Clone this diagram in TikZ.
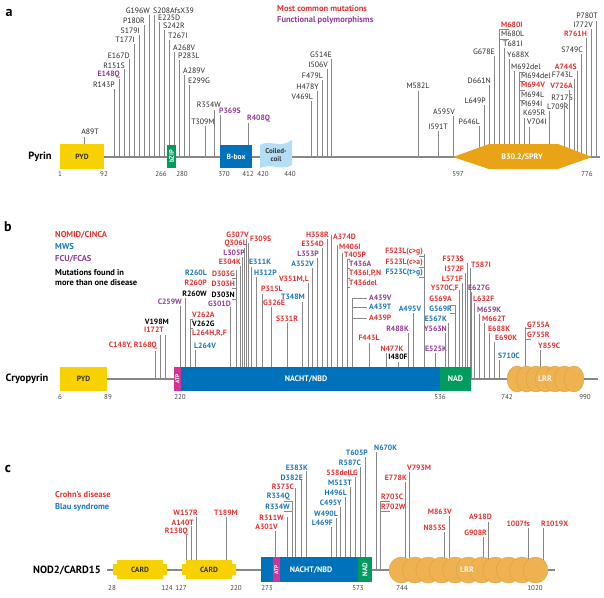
\documentclass[tikz,border=0pt]{standalone}
\usepackage{fontspec}
\setmainfont{PT Sans}
\usetikzlibrary{positioning}

\definecolor{mutred}{RGB}{230,50,50}
\definecolor{mutblue}{RGB}{27,117,188}
\definecolor{mutpurple}{RGB}{146,60,150}
\definecolor{lngray}{RGB}{135,135,135}
\definecolor{pydyellow}{RGB}{247,210,0}
\definecolor{domgreen}{RGB}{0,155,95}
\definecolor{nachtblue}{RGB}{0,114,188}
\definecolor{atpmag}{RGB}{214,50,150}
\definecolor{sprayorange}{RGB}{232,163,23}
\definecolor{lrrorange}{RGB}{238,178,80}
\definecolor{lrrline}{RGB}{222,160,62}
\definecolor{coilblue}{RGB}{180,222,245}

\tikzset{
  stick/.style={draw=lngray, line width=0.8pt},
  baseln/.style={draw=lngray, line width=1.6pt},
  lab/.style={inner sep=0pt, text=black!85, font=\fontsize{7.8}{9}\selectfont},
  labk/.style={lab},
  labkb/.style={lab, text=black, font=\bfseries\fontsize{7.7}{9}\selectfont},
  labr/.style={lab, text=mutred, font=\bfseries\fontsize{7.7}{9}\selectfont},
  labb/.style={lab, text=mutblue, font=\bfseries\fontsize{7.7}{9}\selectfont},
  labp/.style={lab, text=mutpurple, font=\bfseries\fontsize{7.7}{9}\selectfont},
  legend/.style={inner sep=0pt, anchor=west, font=\bfseries\fontsize{8.5}{9.5}\selectfont},
  num/.style={inner sep=0pt, text=black!75, font=\fontsize{7}{8}\selectfont},
  panel/.style={inner sep=0pt, font=\bfseries\fontsize{14}{14}\selectfont},
  protname/.style={inner sep=0pt, font=\bfseries\fontsize{10.5}{11}\selectfont},
  boxtxt/.style={inner sep=0pt, font=\bfseries\fontsize{7.5}{8}\selectfont},
  lrr/.style={fill=lrrorange, draw=lrrline, line width=0.4pt}
}

\newcommand{\cardshape}[2]{% left, right x of a CARD domain
  \fill[pydyellow] (#1+4,560) -- (#2-4,560) -- (#2-4,564) -- (#2,564) -- (#2,575)
    -- (#2-4,575) -- (#2-4,579) -- (#1+4,579) -- (#1+4,575) -- (#1,575)
    -- (#1,564) -- (#1+4,564) -- cycle;}

\begin{document}
\begin{tikzpicture}[x=1pt, y=-1pt]
\useasboundingbox (0,0) rectangle (604,597);

%% ---------- a: Pyrin ----------
\node[panel] (pa) at (9,13) {a};
\node[legend, text=mutred] (lega1) at (277,9) {Most common mutations};
\node[legend, text=mutpurple] (lega2) at ([yshift=-11pt]lega1.west) {Functional polymorphisms};
\node[protname] (pyrin) at (40,157) {Pyrin};
\draw[baseln] (60,157) -- (600,157);

\foreach \mx/\mt/\lx/\ly/\an/\sty/\txt [count=\i] in {
  84/137/90/132/center/labk/A89T, 114/89/115/85/east/labk/R143P,
  119/79/120/75/east/labp/E148Q, 124/69/125/66/east/labk/R151S,
  129/59/130/56/east/labk/E167D, 134/44/135/40/east/labk/T177I,
  139/35/140/31/east/labk/S179I, 144/25/145/21/east/labk/P180R,
  149/15/150/11/east/labk/G196W, 154/15/153/11/west/labk/S208AfsX39,
  159/22/158/18/west/labk/E225D, 164/30/163/26/west/labk/S242R,
  169/40/168/36/west/labk/T267I, 174/52/173/48/west/labk/A268V,
  179/60/178/56/west/labk/P283L, 184/75/183/71/west/labk/A289V,
  189/85/188/81/west/labk/E299G, 205/126/203/122/center/labk/T309M,
  214/110/221/105/east/labk/R354W, 220/115/219/111/west/labp/P369S,
  248/123/247/119/west/labp/R408Q, 311/101/313/97/east/labk/V469L,
  317/91/319/87/east/labk/H478Y, 322/80/323/76/east/labk/F479L,
  327/69/328/65/east/labk/I506V, 331/59/332/55/east/labk/G514E,
  418/91/418/86/center/labk/M582L, 438/131/438/127/center/labk/I591T,
  453/116/455/112/east/labk/A595V, 479/126/480/122/east/labk/P646L,
  484/105/486/101/east/labk/L649P, 489/85/491/81/east/labk/D661N,
  494/56/495/52/east/labk/G678E, 499/29/501/25/west/labr/M680I,
  504/48/503/44/west/labk/T681I, 509/59/507/55/west/labk/Y688X,
  514/71/511/67/west/labk/M692del, 519/72/521/76/west/labk/M694del,
  524/118/523/113/west/labk/K695R, 529/127/527/122/west/labk/V704I,
  549/111/547/107/west/labk/L709R, 564/102/573/98/east/labk/R717S,
  569/90/573/86/east/labr/V726A, 574/79/573/75/east/labk/F743L,
  577/71/577/67/east/labr/A744S, 581/54/583/50/east/labk/S749C,
  586/38/587/34/east/labr/R761H, 591/29/593/25/east/labk/I772V,
  596/21/598/16/east/labk/P780T}
{
  \draw[stick] (\mx,\mt) -- (\mx,157);
  \node[\sty, anchor=\an] (ma\i) at (\lx,\ly) {\txt};
}
% residues with several changes
\node[labk, anchor=west] (m680l) at (501,34) {M680L};
\draw[stick] (499,29) -- (509,29) (499,39) -- (509,39);
\node[labr, anchor=west] (m694v) at (521,85) {M694V};
\node[labk, anchor=west] (m694l) at (521,95) {M694L};
\node[labk, anchor=west] (m694i) at (521,104) {M694I};
\foreach \yy in {72,81,90,100} \draw[stick] (519,\yy) -- (525,\yy);

% domains
\fill[pydyellow] (60,144) rectangle (104,169);
\node[boxtxt, text=black!80] (pyda) at (82,157) {PYD};
\fill[domgreen] (167,145) rectangle (176,168);
\node[boxtxt, text=white, rotate=90, font=\bfseries\fontsize{6.5}{7}\selectfont] (bzip) at (171.5,156.5) {bZIP};
\fill[nachtblue] (220,145) rectangle (252,168);
\node[boxtxt, text=white] (bbox) at (236,156.5) {B-box};
\fill[coilblue] (260,145) .. controls (270,139) and (280,149) .. (292,140)
  -- (292,165) .. controls (282,171) and (271,163) .. (260,168) -- cycle;
\node[boxtxt, text=black!80, align=center, font=\bfseries\fontsize{7}{7.5}\selectfont] (coil) at (276,155) {Coiled-\\coil};
\fill[sprayorange] (453,157) -- (489,144) -- (558,144) -- (592,157) -- (558,169) -- (489,169) -- cycle;
\node[boxtxt, text=white, font=\bfseries\fontsize{8}{9}\selectfont] (spry) at (522,157) {B30.2/SPRY};

\foreach \px/\pn [count=\i] in {60/1, 104/92, 161/266, 182/280, 224/370, 248/412, 263/420, 290/440, 458/597, 587/776}
  \node[num] (na\i) at (\px,174) {\pn};

%% ---------- b: Cryopyrin ----------
\node[panel] (pb) at (8,227) {b};
\node[legend, text=mutred] (legb1) at (55,235) {NOMID/CINCA};
\node[legend, text=mutblue] (legb2) at (55,247) {MWS};
\node[legend, text=mutpurple] (legb3) at (55,259) {FCU/FCAS};
\node[legend, text=black, align=left] (legb4) at (55,277.5) {Mutations found in\\more than one disease};
\node[protname] (cryo) at (27,379) {Cryopyrin};
\draw[baseln] (60,379) -- (598,379);

\foreach \mx/\mt/\lx/\ly/\an/\sty/\txt [count=\i] in {
  155/351/157/346/east/labr/{C148Y, R168Q}, 160/335/164/330/east/labr/I172T,
  165/335/169/322/east/labkb/V198M, 180/306/182/302/east/labp/C259W,
  185/298/207/294/east/labkb/R260W, 190/319/192/315/west/labr/V262A,
  195/350/194/346/west/labb/L264V, 230/307/231/304/east/labp/G301D,
  236/270/235/295/east/labkb/D303N, 240/266/241/262/east/labr/E304K,
  242/257/245/253/east/labp/L305P, 244/248/247/244/east/labr/Q306L,
  246/239/249/235/east/labr/G307V, 248/243/250/239/west/labr/F309S,
  251/267/249/262/west/labb/E311K, 256/277/254/273/west/labb/H312P,
  262/294/261/289/west/labr/P315L, 271/307/263/303/west/labr/G326E,
  287/323/287/319/center/labr/S331R, 302/302/305/297/east/labb/T348M,
  308/283/309/279/east/labr/{V351M,L}, 312/268/314/264/east/labb/A352V,
  317/258/319/254/east/labp/L353P, 322/248/324/244/east/labr/E354D,
  327/239/329/235/east/labr/H358R, 331/235/333/237/west/labr/A374D,
  337/245/339/247/west/labr/M406I, 342/253/344/255/west/labr/T405P,
  347/259/349/263.5/west/labp/T436A, 352/298/369/298/west/labp/A439V,
  369/343/369/338/center/labr/F443L, 386/353/392/349/center/labr/N477K,
  398/362/398/357/center/labkb/I480F, 408/333/409/329/east/labp/R488K,
  413/313/410/309/center/labb/A495V, 424/254/423/252/east/labr/{F523L(c>g)},
  435/353/436/349/center/labp/E525K, 445/333/447/329/east/labp/Y563N,
  448/323/447/319/east/labb/E567K, 455/305/452/299/east/labr/G569A,
  459/290/459/288/east/labr/{Y570C,F}, 462/283/463/279/east/labr/L571F,
  465/273/464/269/east/labr/I572F, 467/263/464/259/east/labr/F573S,
  470/268/471/265/west/labr/T587I, 471/292/468/288/west/labp/E627G,
  474/303/473/299/west/labr/L632F, 479/314/477/310/west/labp/M659K,
  484/323/482/319/west/labr/M662T, 489/333/488/329/west/labr/E688K,
  494/342/495/338/west/labr/E690K, 499/360/498/356/west/labb/S710C,
  525/327/527/325/west/labr/G755A, 540/350/538/346/west/labr/Y859C}
{
  \draw[stick] (\mx,\mt) -- (\mx,379);
  \node[\sty, anchor=\an] (mb\i) at (\lx,\ly) {\txt};
}
% residues with several changes
\node[labb, anchor=east] (r260l) at (207,273) {R260L};
\node[labr, anchor=east] (r260p) at (207,283) {R260P};
\node[labkb, anchor=west] (v262g) at (192,324) {V262G};
\node[labr, anchor=west] (l264h) at (192,333) {L264H,R,F};
\draw[stick] (190,319) -- (193,319) (190,328) -- (193,328);
\node[labr, anchor=east] (d303g) at (235,274) {D303G};
\node[labr, anchor=east] (d303h) at (235,284) {D303H};
\foreach \yy in {278,288,299} \draw[stick] (232,\yy) -- (236,\yy);
\node[labr, anchor=west] (t436i) at (349,273) {T436I,P,N};
\node[labr, anchor=west] (t436d) at (349,283) {T436del};
\foreach \yy in {259,268,278,287} \draw[stick] (347,\yy) -- (350,\yy);
\node[labb, anchor=west] (a439t) at (369,307) {A439T};
\node[labr, anchor=west] (a439p) at (369,318) {A439P};
\foreach \yy in {298,307,318} \draw[stick] (352,\yy) -- (367,\yy);
\node[labr, anchor=east] (f523a) at (423,263) {F523L(c>a)};
\node[labb, anchor=east] (f523c) at (423,273) {F523C(t>g)};
\foreach \yy in {256,267,277} \draw[stick] (419,\yy) -- (424,\yy);
\node[labb, anchor=east] (g569r) at (452,309) {G569R};
\draw[stick] (450,305) -- (455,305) (450,313) -- (455,313);
\node[labr, anchor=west] (g755r) at (527,335) {G755R};
\draw[stick] (525,328) -- (531,328) (525,339) -- (531,339);

% domains
\fill[pydyellow] (60,367) rectangle (107,391);
\node[boxtxt, text=black!80] (pydb) at (83.5,379) {PYD};
\fill[nachtblue] (181,367) rectangle (440,391);
\fill[atpmag] (174,367) rectangle (181,391);
\node[boxtxt, text=white, rotate=90, font=\bfseries\fontsize{5.5}{6}\selectfont] (atpb) at (177.5,379) {ATP};
\node[boxtxt, text=white, font=\bfseries\fontsize{8}{9}\selectfont] (nachtb) at (306,379) {NACHT/NBD};
\fill[domgreen] (440,367) rectangle (471,391);
\node[boxtxt, text=white, font=\bfseries\fontsize{8}{9}\selectfont] (nadb) at (455.5,379) {NAD};
\foreach \k in {0,...,6}
  \draw[lrr] ({517+\k*9.5},379) ellipse [x radius=10, y radius=13];
\node[boxtxt, text=white!90!lrrorange, font=\bfseries\fontsize{8}{9}\selectfont] (lrrb) at (545,379) {LRR};

\foreach \px/\pn [count=\i] in {60/6, 108/89, 180/220, 440/536, 507/742, 585/990}
  \node[num] (nb\i) at (\px,397) {\pn};

%% ---------- c: NOD2/CARD15 ----------
\node[panel] (pc) at (8,469) {c};
\node[legend, text=mutred] (legc1) at (55,495) {Crohn’s disease};
\node[legend, text=mutblue] (legc2) at (55,507) {Blau syndrome};
\node[protname] (nod) at (67,570) {NOD2/CARD15};
\draw[baseln] (107,570) -- (555,570);

\foreach \mx/\mt/\lx/\ly/\an/\sty/\txt [count=\i] in {
  186/535/188/532/east/labr/R138Q, 191/526/194/523/east/labr/A140T,
  196/517/198/513/east/labr/W157R, 226/517/226/513/center/labr/T189M,
  275/531/278/527/east/labr/A301V, 287/517/284/518/east/labr/R311W,
  292/501/290/497/east/labb/R334Q, 295/488/294/487/east/labr/R373C,
  301/480/303/478/east/labb/D382E, 306/471/308/468/east/labb/E383K,
  331/527/333/523/east/labb/L469F, 336/518/338/514/east/labb/W490L,
  340/507/342/503/east/labb/C495Y, 345/497/347/493/east/labb/H496L,
  350/487/352/483/east/labb/M513T, 355/477/358/473/east/labr/558delLG,
  360/467/361/463/east/labb/R587C, 365/457/368/453/east/labb/T605P,
  376/452/374/448/west/labb/N670K, 380/501/381/497/west/labr/R703C,
  405/482/407/478/east/labr/E778K, 409/472/407/468/west/labr/V793M,
  444/532/446/528/east/labr/N853S, 449/516/452/512/east/labr/M863V,
  483/537/487/533/east/labr/G908R, 488/522/492/517/east/labr/A918D,
  528/528/530/524/east/labr/1007fs, 543/528/541/524/west/labr/R1019X}
{
  \draw[stick] (\mx,\mt) -- (\mx,570);
  \node[\sty, anchor=\an] (mc\i) at (\lx,\ly) {\txt};
}
% residues with several changes
\node[labb, anchor=east] (r334w) at (290,507) {R334W};
\draw[stick] (284,501) -- (292,501) (284,511) -- (292,511);
\node[labr, anchor=west] (r702w) at (381,507) {R702W};
\draw[stick] (380,501) -- (390,501) (380,511) -- (390,511);

% domains
\cardshape{113}{167}
\node[boxtxt, text=black!80] (card1) at (140,569.5) {CARD};
\cardshape{182}{236}
\node[boxtxt, text=black!80] (card2) at (209,569.5) {CARD};
\fill[nachtblue] (261,557) rectangle (358,582);
\fill[atpmag] (273,557) rectangle (280,582);
\node[boxtxt, text=white, rotate=90, font=\bfseries\fontsize{5.5}{6}\selectfont] (atpc) at (276.5,570) {ATP};
\node[boxtxt, text=white, font=\bfseries\fontsize{8}{9}\selectfont] (nachtc) at (311,570) {NACHT/NBD};
\fill[domgreen] (358,557) rectangle (372,582);
\node[boxtxt, text=white, rotate=90, font=\bfseries\fontsize{7}{8}\selectfont] (nadc) at (365,569.5) {NAD};
\foreach \k in {0,...,10}
  \draw[lrr] ({401.5+\k*13.4},570) ellipse [x radius=12.5, y radius=13];
\node[boxtxt, text=white!90!lrrorange, font=\bfseries\fontsize{8}{9}\selectfont] (lrrc) at (467,570) {LRR};

\foreach \px/\pn [count=\i] in {112/28, 167/124, 181/127, 236/220, 267/273, 358/573, 402/744, 535/1020}
  \node[num] (nc\i) at (\px,588) {\pn};
\end{tikzpicture}
\end{document}
